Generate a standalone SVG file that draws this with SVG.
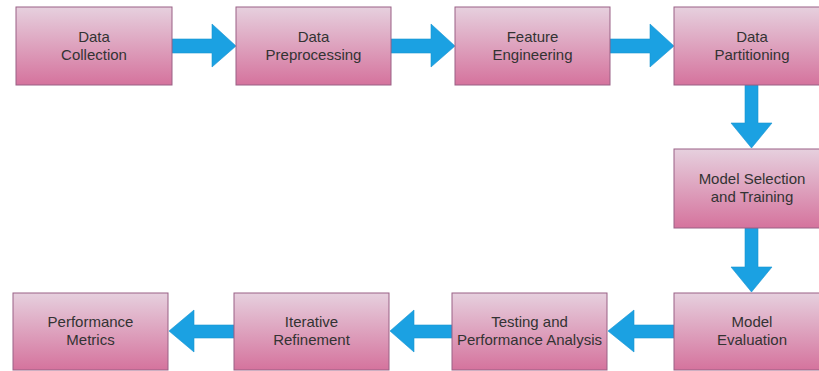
<svg xmlns="http://www.w3.org/2000/svg" width="819" height="371" viewBox="0 0 819 371">
<defs>
<linearGradient id="pink" x1="0" y1="0" x2="0" y2="1">
<stop offset="0" stop-color="#e6d0de"/>
<stop offset="1" stop-color="#d5739d"/>
</linearGradient>
</defs>
<style>
.box{fill:url(#pink);stroke:#996185;stroke-width:1}
.lbl{font-family:"Liberation Sans",Arial,sans-serif;font-size:15px;fill:#333333;text-anchor:middle}
.arr{fill:#1ba1e2;stroke:#1a94d2;stroke-width:0.6}
</style>
<rect width="819" height="371" fill="#ffffff"/>
<g id="connectors">
<polygon class="arr" points="172,39 212,39 212,24 236,46 212,67 212,53 172,53"/>
<polygon class="arr" points="391,39 431,39 431,24 455,46 431,67 431,53 391,53"/>
<polygon class="arr" points="610,39 650,39 650,24 674,46 650,67 650,53 610,53"/>
<polygon class="arr" points="745,85 758,85 758,123 772,123 751.5,148 731,123 745,123"/>
<polygon class="arr" points="745,228 758,228 758,267 772,267 751.5,292 731,267 745,267"/>
<polygon class="arr" points="674,325 634,325 634,310 608,331 634,352 634,338 674,338"/>
<polygon class="arr" points="452,325 414,325 414,310 390,331 414,352 414,338 452,338"/>
<polygon class="arr" points="234,325 194,325 194,310 169,331 194,352 194,338 234,338"/>
</g>
<g id="n1"><rect class="box" x="16" y="7" width="156" height="78"/><text class="lbl" x="94" y="42">Data</text><text class="lbl" x="94" y="60">Collection</text></g>
<g id="n2"><rect class="box" x="236" y="7" width="155" height="78"/><text class="lbl" x="313.5" y="42">Data</text><text class="lbl" x="313.5" y="60">Preprocessing</text></g>
<g id="n3"><rect class="box" x="455" y="7" width="155" height="78"/><text class="lbl" x="532.5" y="42">Feature</text><text class="lbl" x="532.5" y="60">Engineering</text></g>
<g id="n4"><rect class="box" x="674" y="7" width="156" height="78"/><text class="lbl" x="752" y="42">Data</text><text class="lbl" x="752" y="60">Partitioning</text></g>
<g id="n5"><rect class="box" x="674" y="149" width="156" height="79"/><text class="lbl" x="752" y="184">Model Selection</text><text class="lbl" x="752" y="202">and Training</text></g>
<g id="n6"><rect class="box" x="674" y="293" width="156" height="77"/><text class="lbl" x="752" y="327">Model</text><text class="lbl" x="752" y="345">Evaluation</text></g>
<g id="n7"><rect class="box" x="452" y="293" width="155" height="77"/><text class="lbl" x="529.5" y="327">Testing and</text><text class="lbl" x="529.5" y="345">Performance Analysis</text></g>
<g id="n8"><rect class="box" x="234" y="293" width="155" height="77"/><text class="lbl" x="311.5" y="327">Iterative</text><text class="lbl" x="311.5" y="345">Refinement</text></g>
<g id="n9"><rect class="box" x="13" y="293" width="155" height="77"/><text class="lbl" x="90.5" y="327">Performance</text><text class="lbl" x="90.5" y="345">Metrics</text></g>
</svg>
